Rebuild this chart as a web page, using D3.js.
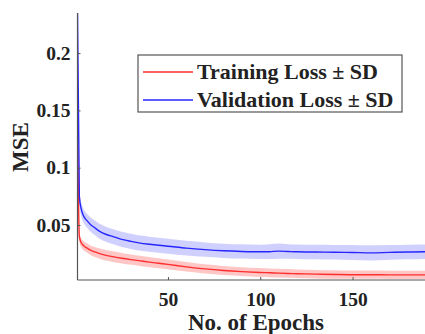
<!DOCTYPE html>
<html>
<head>
<meta charset="utf-8">
<script src="https://cdn.jsdelivr.net/npm/d3@7/dist/d3.min.js"></script>
<style>
  body { margin: 0; background: #fff; }
  svg text { font-family: "Liberation Serif", "Times New Roman", serif; font-weight: bold; fill: #222; }
</style>
</head>
<body>
<div class="chart"></div>
<script>
// data
var epochs = [1, 2, 3, 4, 5, 6, 8, 10, 13, 17, 20, 25, 30, 35, 40, 45, 50, 60, 70, 80, 90, 100, 105, 110, 115, 120, 130, 140, 150, 160, 170, 180, 190, 200];
var trainLoss = [0.146, 0.040, 0.0345, 0.0325, 0.031, 0.030, 0.028, 0.0267, 0.0250, 0.0233, 0.0224, 0.0210, 0.0198, 0.0187, 0.0176, 0.0166, 0.0156, 0.0135, 0.0117, 0.0103, 0.0093, 0.0086, 0.0083, 0.0080, 0.0077, 0.0075, 0.0071, 0.0068, 0.0066, 0.0066, 0.0065, 0.0065, 0.0065, 0.0065];
var trainSD = [0.004, 0.004, 0.004, 0.004, 0.004, 0.004, 0.0042, 0.0044, 0.0045, 0.0046, 0.0046, 0.0046, 0.0045, 0.0044, 0.0044, 0.0043, 0.0042, 0.0041, 0.004, 0.004, 0.0039, 0.0039, 0.0038, 0.0038, 0.0038, 0.0037, 0.0037, 0.0037, 0.0036, 0.0036, 0.0036, 0.0036, 0.0036, 0.0036];
var valLoss = [0.235, 0.075, 0.064, 0.059, 0.056, 0.054, 0.0505, 0.048, 0.0445, 0.0415, 0.0400, 0.0375, 0.0357, 0.0342, 0.0332, 0.0323, 0.0315, 0.0298, 0.0285, 0.0275, 0.0269, 0.0266, 0.0267, 0.0272, 0.0269, 0.0266, 0.0264, 0.0262, 0.0260, 0.0257, 0.0261, 0.0264, 0.0266, 0.0266];
var valSD = [0.006, 0.006, 0.006, 0.006, 0.006, 0.006, 0.0062, 0.0064, 0.0065, 0.0066, 0.0066, 0.0066, 0.0066, 0.0066, 0.0066, 0.0066, 0.0065, 0.0064, 0.0063, 0.0062, 0.0062, 0.0062, 0.0064, 0.0066, 0.0064, 0.0063, 0.0063, 0.0064, 0.0066, 0.0066, 0.0064, 0.0064, 0.0063, 0.0063];
var xTicks = [50, 100, 150];
var yTicks = [0.05, 0.1, 0.15, 0.2];
var yTickLabels = ["0.05", "0.1", "0.15", "0.2"];
var legendLabels = ["Training Loss \u00b1 SD", "Validation Loss \u00b1 SD"];

// dimensions
var width = 425, height = 334;
var plotLeft = 77.5, plotTop = 13, plotBottom = 280;

var x = d3.scaleLinear().domain([1, 200]).range([plotLeft, plotLeft + 199 * 1.846]);
var y = d3.scaleLinear().domain([0.002, 0.235]).range([plotBottom, plotTop]);

var svg = d3.select(".chart").append("svg")
  .attr("width", width)
  .attr("height", height);

svg.append("clipPath").attr("id", "plotclip")
  .append("rect")
  .attr("x", plotLeft).attr("y", plotTop)
  .attr("width", width - plotLeft).attr("height", plotBottom - plotTop);

var series = [
  {name: legendLabels[0], mean: trainLoss, sd: trainSD, line: "#ff2e2e", band: "#ffbcbc"},
  {name: legendLabels[1], mean: valLoss, sd: valSD, line: "#2626ff", band: "#c8c8ff"}
];

var plot = svg.append("g").attr("clip-path", "url(#plotclip)");

var area = d3.area()
  .x(function(d) { return x(d.e); })
  .y0(function(d) { return y(d.m - d.s); })
  .y1(function(d) { return y(d.m + d.s); })
  .curve(d3.curveMonotoneX);
var line = d3.line()
  .x(function(d) { return x(d.e); })
  .y(function(d) { return y(d.m); })
  .curve(d3.curveMonotoneX);

series.forEach(function(s) {
  s.pts = epochs.map(function(e, i) { return {e: e, m: s.mean[i], s: s.sd[i]}; });
  plot.append("path").datum(s.pts)
    .attr("d", area)
    .attr("fill", s.band)
    .attr("fill-opacity", 0.85);
});
series.forEach(function(s) {
  plot.append("path").datum(s.pts)
    .attr("d", line)
    .attr("fill", "none")
    .attr("stroke", s.line)
    .attr("stroke-width", 1.4);
});

// axes
var xAxis = svg.append("g")
  .attr("transform", "translate(0," + plotBottom + ")")
  .call(d3.axisBottom(x).tickValues(xTicks).tickSizeInner(-3).tickSizeOuter(0).tickPadding(12));
var yAxis = svg.append("g")
  .attr("transform", "translate(" + plotLeft + ",0)")
  .call(d3.axisLeft(y).tickValues(yTicks).tickFormat(function(d, i) { return yTickLabels[i]; })
    .tickSizeInner(-3).tickSizeOuter(0).tickPadding(7));

[xAxis, yAxis].forEach(function(a) {
  a.select(".domain").attr("stroke", "#555").attr("stroke-width", 1.2);
  a.selectAll(".tick line").attr("stroke", "#555");
  a.selectAll(".tick text")
    .style("font-family", "Liberation Serif")
    .style("font-weight", "bold")
    .style("font-size", "19.5px")
    .attr("fill", "#222");
});
yAxis.select(".domain").attr("d", "M0," + plotTop + "V" + plotBottom);
xAxis.select(".domain").attr("d", "M" + plotLeft + ",0H" + width);

// x label
svg.append("text")
  .attr("x", 256)
  .attr("y", 330)
  .attr("text-anchor", "middle")
  .style("font-size", "23px")
  .text("No. of Epochs");

// y label
svg.append("text")
  .attr("transform", "translate(28,147) rotate(-90)")
  .attr("text-anchor", "middle")
  .style("font-size", "23px")
  .text("MSE");

// legend
var legend = svg.append("g");
legend.append("rect")
  .attr("x", 138).attr("y", 55)
  .attr("width", 264).attr("height", 57)
  .attr("fill", "#fff")
  .attr("stroke", "#555")
  .attr("stroke-width", 1.2);
series.forEach(function(s, i) {
  var ly = 72 + i * 28;
  legend.append("line")
    .attr("x1", 143).attr("x2", 193)
    .attr("y1", ly).attr("y2", ly)
    .attr("stroke", s.line)
    .attr("stroke-width", 1.4);
  legend.append("text")
    .attr("x", 197)
    .attr("y", ly + 7)
    .style("font-size", "22px")
    .text(s.name);
});
</script>
</body>
</html>
